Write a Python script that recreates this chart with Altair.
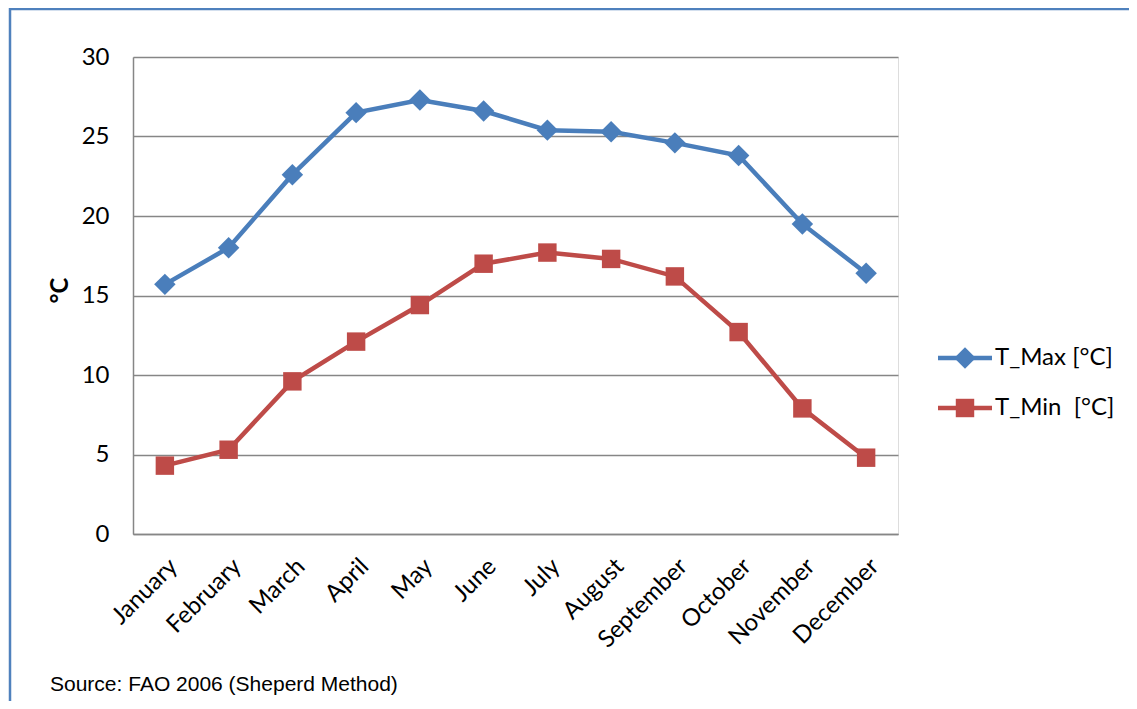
import altair as alt
import pandas as pd

months = ["January", "February", "March", "April", "May", "June", "July",
          "August", "September", "October", "November", "December"]
t_max = [15.7, 18.0, 22.6, 26.5, 27.3, 26.6, 25.4, 25.3, 24.6, 23.8, 19.5, 16.4]
t_min = [4.3, 5.3, 9.6, 12.1, 14.4, 17.0, 17.7, 17.3, 16.2, 12.7, 7.9, 4.8]
series_names = ["T_Max [°C]", "T_Min  [°C]"]
legend_labels = ["T_Max [°C]", "T_Min\u00a0 [°C]"]
y_ticks = [0, 5, 10, 15, 20, 25, 30]
source_text = ["Source: FAO 2006 (Sheperd Method)"]

colors = ["#4A7EBB", "#BE4B48"]
FONT = "Lato"
FS = 24

rows = []
for m, a, b in zip(months, t_max, t_min):
    rows.append({"month": m, "series": series_names[0], "value": a})
    rows.append({"month": m, "series": series_names[1], "value": b})
df = pd.DataFrame(rows)

x_enc = alt.X("month:N", sort=months, scale=alt.Scale(padding=0.5), title=None,
              axis=alt.Axis(labelAngle=-45, labelFont=FONT, labelFontSize=FS,
                            labelColor="black", ticks=False, domainColor="#868686",
                            domainWidth=1.5, labelPadding=20, grid=False))
y_enc = alt.Y("value:Q", scale=alt.Scale(domain=[0, 30], nice=False),
              axis=alt.Axis(values=y_ticks, title="°C", titleFont=FONT, titleFontSize=FS,
                            titleFontWeight="bold", titleColor="black", titleAngle=-90,
                            titleX=-73, titleY=233, titleAlign="center", titleBaseline="middle",
                            labelFont=FONT, labelFontSize=FS, labelColor="black",
                            labelPadding=24, ticks=False, domainColor="#868686",
                            domainWidth=1.5, gridColor="#868686", gridWidth=1.5))
color_enc = alt.Color("series:N", scale=alt.Scale(domain=series_names, range=colors), legend=None)

base = alt.Chart(df)
lines = base.mark_line(strokeWidth=4.5).encode(x=x_enc, y=y_enc, color=color_enc)
points = base.mark_point(filled=True, opacity=1).encode(
    x=alt.X("month:N", sort=months),
    y="value:Q",
    color=color_enc,
    shape=alt.Shape("series:N", scale=alt.Scale(domain=series_names, range=["diamond", "square"]), legend=None),
    size=alt.Size("series:N", scale=alt.Scale(domain=series_names, range=[460, 340]), legend=None),
)

leg_df = pd.DataFrame({"series": series_names, "label": legend_labels})
legend_layers = []
leg_y = [301, 351]
leg_shapes = ["diamond", "square"]
leg_sizes = [460, 340]
for i in range(2):
    ld = alt.Chart(leg_df).transform_filter(alt.datum.series == series_names[i])
    legend_layers.append(ld.mark_rule(strokeWidth=4.5, color=colors[i]).encode(
        x=alt.value(805), x2=alt.value(859), y=alt.value(leg_y[i])))
    legend_layers.append(ld.mark_point(filled=True, opacity=1, color=colors[i],
                                       shape=leg_shapes[i], size=leg_sizes[i]).encode(
        x=alt.value(832), y=alt.value(leg_y[i])))
    legend_layers.append(ld.mark_text(align="left", baseline="middle", font=FONT,
                                      fontSize=FS, color="black").encode(
        x=alt.value(862), y=alt.value(leg_y[i]), text="label:N"))

src_df = pd.DataFrame({"text": source_text})
source = alt.Chart(src_df).mark_text(align="left", baseline="middle", font="Liberation Sans",
                                     fontSize=21, color="black").encode(
    x=alt.value(-83), y=alt.value(628), text="text:N")

border = alt.Chart(src_df).mark_rect(fill=None, stroke="#4F81BD", strokeWidth=2.5).encode(
    x=alt.value(-123), y=alt.value(-48), x2=alt.value(1300), y2=alt.value(1000))

chart = alt.layer(border, lines, points, source, *legend_layers).properties(
    width=765, height=477,
    autosize=alt.AutoSizeParams(type="none"),
    padding={"left": 125, "top": 49, "right": 231, "bottom": 167},
).configure_view(stroke=None).configure(background="white")

chart.save("out.html", embed_options={"renderer": "svg", "actions": False})
